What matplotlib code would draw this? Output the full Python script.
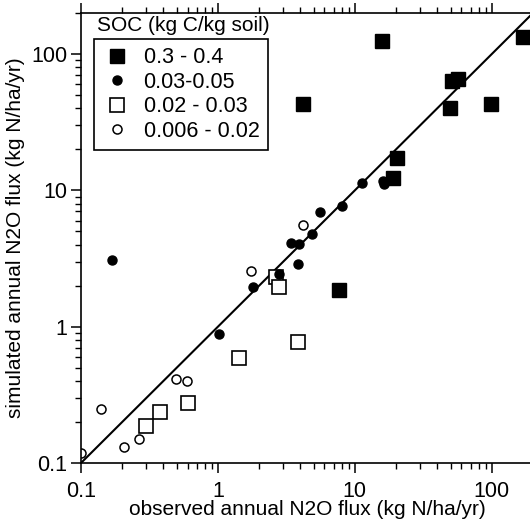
import numpy as np
import matplotlib.pyplot as plt
from matplotlib.ticker import FixedLocator, FixedFormatter, LogLocator, NullFormatter

plt.rcParams["font.family"] = ["Liberation Sans", "DejaVu Sans"]

# SOC 0.3 - 0.4 (filled squares)
obs_sq_f = [15.7, 4.2, 49.4, 51, 57, 98, 168, 20.3, 18.9, 7.6]
sim_sq_f = [124, 43, 40.5, 63, 65.5, 43, 133, 17.3, 12.4, 1.85]

# SOC 0.03 - 0.05 (filled circles)
obs_ci_f = [0.168, 1.8, 2.79, 1.02, 3.41, 3.9, 3.84, 4.85, 5.55, 8.0, 11.2, 16.0, 16.2]
sim_ci_f = [3.1, 1.94, 2.45, 0.89, 4.14, 4.06, 2.9, 4.82, 6.97, 7.7, 11.4, 11.8, 11.2]

# SOC 0.02 - 0.03 (open squares)
obs_sq_o = [2.65, 2.79, 3.84, 1.42, 0.60, 0.378, 0.298]
sim_sq_o = [2.33, 1.94, 0.77, 0.59, 0.275, 0.236, 0.187]

# SOC 0.006 - 0.02 (open circles)
obs_ci_o = [4.17, 1.74, 0.49, 0.59, 0.14, 0.265, 0.206, 0.10]
sim_ci_o = [5.6, 2.54, 0.41, 0.40, 0.248, 0.15, 0.131, 0.118]

labels = ["0.3 - 0.4", "0.03-0.05", "0.02 - 0.03", "0.006 - 0.02"]
ticks = [0.1, 1, 10, 100]
tick_labels = ["0.1", "1", "10", "100"]
lims = [0.1, 200]

fig = plt.figure(figsize=(5.3, 5.24), dpi=100)
ax = fig.add_axes([81 / 530, 61 / 524, 452 / 530, 450 / 524])

ax.plot(lims, lims, color="black", linewidth=1.5, zorder=1)

ax.plot(obs_sq_f, sim_sq_f, "s", ms=10.5, mfc="black", mec="black", ls="none",
        label=labels[0], zorder=3)
ax.plot(obs_ci_f, sim_ci_f, "o", ms=6.5, mfc="black", mec="black", ls="none",
        label=labels[1], zorder=3)
ax.plot(obs_sq_o, sim_sq_o, "s", ms=9.5, mfc="white", mec="black", mew=1.2,
        ls="none", label=labels[2], zorder=2)
ax.plot(obs_ci_o, sim_ci_o, "o", ms=6.5, mfc="white", mec="black", mew=1.1,
        ls="none", label=labels[3], zorder=2)

ax.set_xscale("log")
ax.set_yscale("log")
ax.set_xlim(lims)
ax.set_ylim(lims)

for axis in (ax.xaxis, ax.yaxis):
    axis.set_major_locator(FixedLocator(ticks))
    axis.set_major_formatter(FixedFormatter(tick_labels))
    axis.set_minor_locator(LogLocator(base=10, subs=np.arange(2, 10)))
    axis.set_minor_formatter(NullFormatter())

ax.spines["right"].set_visible(False)
for s in ("left", "bottom", "top"):
    ax.spines[s].set_linewidth(1.2)
ax.tick_params(which="major", direction="out", length=7, width=1.1, labelsize=15.5,
               top=True, right=False)
ax.tick_params(which="minor", direction="out", length=4, width=1.0,
               top=True, right=False)
ax.tick_params(axis="x", pad=6)
ax.tick_params(axis="y", pad=3)

ax.set_xlabel("observed annual N2O flux (kg N/ha/yr)", fontsize=15, va="center")
ax.xaxis.set_label_coords(0.5, -0.104)
ax.set_ylabel("simulated annual N2O flux (kg N/ha/yr)", fontsize=15, labelpad=4)

leg = ax.legend(loc="upper left", bbox_to_anchor=(0.029, 0.943), borderaxespad=0,
                fontsize=15.5, frameon=True, fancybox=False, framealpha=1,
                edgecolor="black", handletextpad=0.6, borderpad=0.4,
                labelspacing=0.16, handlelength=1.3)
leg.get_frame().set_linewidth(1.2)
ax.text(0.035, 0.972, "SOC (kg C/kg soil)", transform=ax.transAxes,
        fontsize=15, ha="left", va="center")

fig.savefig("out.png", dpi=100)
